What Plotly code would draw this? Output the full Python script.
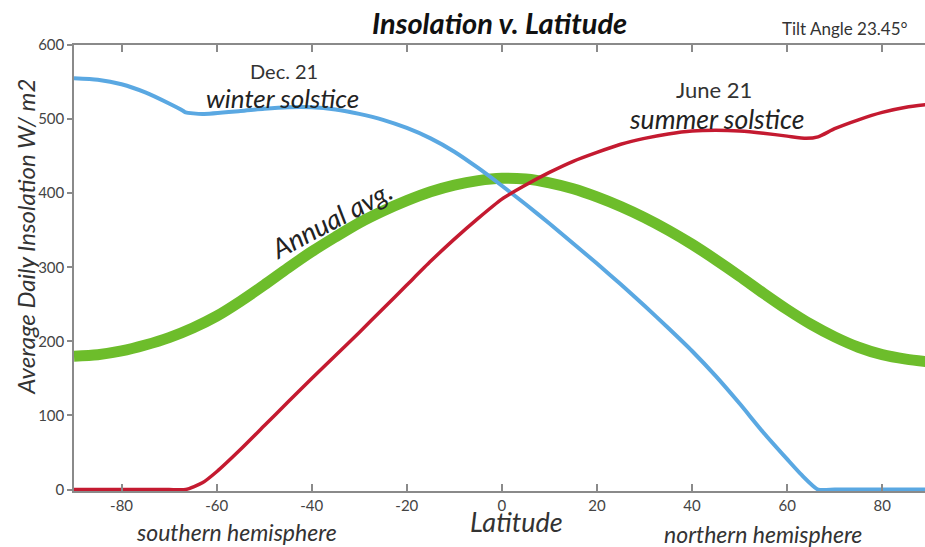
import plotly.graph_objects as go

# Latitude grid (degrees) and insolation values (W/m2)
lat_dec = [-90, -85, -80, -75, -70, -67, -66.5, -63, -55, -50, -45, -40, -35, -30, -25, -20, -15, -10, -5,
           0, 5, 10, 15, 20, 25, 30, 35, 40, 45, 50, 55, 60, 63, 66.5, 70, 75, 80, 85, 90]
dec21 = [555, 553, 547, 536, 521, 511, 509, 507, 511, 514, 516, 516, 513, 507, 499, 488, 474, 456, 434,
         410, 385, 359, 332, 305, 277, 248, 218, 187, 153, 116, 77, 41, 20, 0, 0, 0, 0, 0, 0]

lat_jun = [-90, -85, -80, -75, -70, -66.5, -63, -60, -55, -50, -45, -40, -35, -30, -25, -20, -15, -10, -5,
           0, 5, 10, 15, 20, 25, 30, 35, 40, 45, 50, 55, 60, 64, 66.5, 70, 75, 80, 85, 90]
jun21 = [0, 0, 0, 0, 0, 0, 9, 24, 54, 86, 118, 150, 181, 212, 244, 276, 308, 338, 366,
         392, 411, 428, 443, 455, 466, 474, 480, 484, 485, 484, 481, 477, 474, 476, 487, 499, 509, 516, 520]

lat_ann = [-90, -85, -80, -75, -70, -65, -60, -55, -50, -45, -40, -35, -30, -25, -20, -15, -10, -5,
           0, 5, 10, 15, 20, 25, 30, 35, 40, 45, 50, 55, 60, 65, 70, 75, 80, 85, 90]
annual = [180, 182, 187, 195, 205, 218, 234, 254, 276, 299, 321, 341, 360, 376, 390, 402, 411, 417,
          420, 419, 414, 406, 395, 382, 367, 350, 331, 310, 288, 265, 243, 223, 206, 192, 182, 176, 172]

x_tickvals = [-80, -60, -40, -20, 0, 20, 40, 60, 80]
x_ticktext = ["-80", "-60", "-40", "-20", "0", "20", "40", "60", "80"]
y_tickvals = [0, 100, 200, 300, 400, 500, 600]

FONT = "Lato"
BLUE = "#5aa8e2"
RED = "#c41a30"
GREEN = "#6dbd2b"
W, H = 925, 547

fig = go.Figure()
fig.add_trace(go.Scatter(x=lat_ann, y=annual, mode="lines",
                         line=dict(color=GREEN, width=11, shape="spline", smoothing=0.8)))
fig.add_trace(go.Scatter(x=lat_dec, y=dec21, mode="lines",
                         line=dict(color=BLUE, width=4, shape="spline", smoothing=0.6)))
fig.add_trace(go.Scatter(x=lat_jun, y=jun21, mode="lines",
                         line=dict(color=RED, width=3.5, shape="spline", smoothing=0.6)))

fig.update_layout(
    width=W, height=H,
    margin=dict(l=74, r=0, t=45, b=55.5),
    paper_bgcolor="white", plot_bgcolor="white",
    showlegend=False,
    font=dict(family=FONT, color="#333"),
    xaxis=dict(range=[-90, 89], tickvals=x_tickvals, ticktext=x_ticktext,
               showline=True, linecolor="#8a8a8a", linewidth=1.5, mirror="ticks",
               ticks="inside", ticklen=7, tickcolor="#8a8a8a", tickwidth=1.5,
               showgrid=False, zeroline=False,
               tickfont=dict(family=FONT, size=15, color="#444")),
    yaxis=dict(range=[-2, 600], tickvals=y_tickvals,
               showline=True, linecolor="#8a8a8a", linewidth=1.5, mirror=False,
               ticks="outside", ticklen=5, tickcolor="#8a8a8a", tickwidth=1.5,
               showgrid=False, zeroline=False,
               tickfont=dict(family=FONT, size=15, color="#444")),
)

# pixel coords -> paper coords (paper = plot area)
L, R, T, B = 74, 925, 45, 491.5
ann = []
def pt(xp, yp, s, size, italic=False, bold=False, color="#222", angle=0):
    x, y = (xp - L) / (R - L), (B - yp) / (B - T)
    ann.append(dict(x=x, y=y, xref="paper", yref="paper", text=s, showarrow=False,
                    xanchor="center", yanchor="middle", textangle=angle,
                    font=dict(family=FONT, size=size, color=color,
                              style="italic" if italic else "normal",
                              weight="bold" if bold else "normal")))

pt(499, 22, "Insolation v. Latitude", 29, italic=True, bold=True, color="#111")
pt(845, 28, "Tilt Angle 23.45°", 17, color="#333")
pt(26, 237, "Average Daily Insolation W/ m2", 24, italic=True, angle=-90, color="#333")
pt(516, 522, "Latitude", 27, italic=True, color="#333")
pt(236, 533, "southern hemisphere", 23, italic=True, color="#333")
pt(763, 535, "northern hemisphere", 23, italic=True, color="#333")
pt(284, 71, "Dec. 21", 20, color="#333")
pt(282, 98, "winter solstice", 26, italic=True, color="#222")
pt(714, 90, "June 21", 22, color="#333")
pt(716, 119, "summer solstice", 26.5, italic=True, color="#222")
pt(331, 220, "Annual avg.", 27, italic=True, angle=-28, color="#222")

fig.update_layout(annotations=ann)
fig.write_html("out.html", config={"displayModeBar": False},
               post_script="document.body.style.margin='0';")
